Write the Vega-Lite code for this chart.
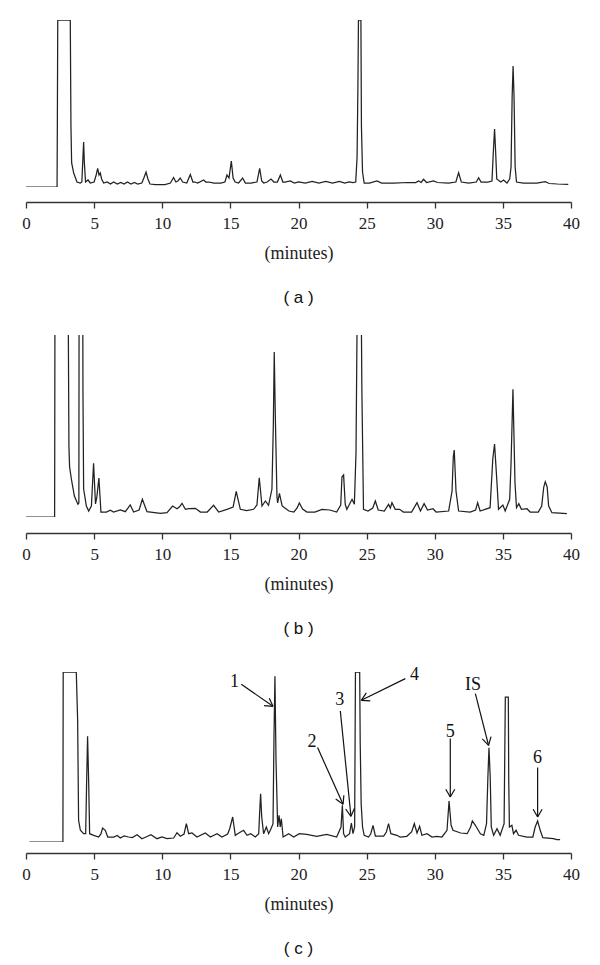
{
  "$schema": "https://vega.github.io/schema/vega-lite/v6.json",
  "padding": {"left": 21, "top": 20, "right": 10, "bottom": 0},
  "spacing": 29,
  "config": {
    "view": {"stroke": null},
    "axis": {"grid": false, "domainColor": "#333", "domainWidth": 1.3, "tickColor": "#333", "tickWidth": 1.3, "tickSize": 6, "labelFont": "Liberation Serif", "labelFontSize": 17, "labelColor": "#222", "labelPadding": 7, "titleFont": "Liberation Serif", "titleFontSize": 18, "titleFontWeight": "normal", "titleColor": "#222", "titlePadding": 13, "labelFlush": false},
    "title": {"font": "Liberation Sans", "fontSize": 17, "fontWeight": "normal", "color": "#111", "orient": "bottom", "anchor": "middle", "offset": 28}
  },
  "datasets": {
    "a": [
      {"t":0,"v":0},{"t":2.28,"v":0},{"t":2.3,"v":60},{"t":2.33,"v":167},{"t":3.25,"v":167},{"t":3.3,"v":60},{"t":3.35,"v":24},{"t":3.5,"v":14},{"t":3.74,"v":5},{"t":3.98,"v":4},{"t":4.1,"v":5},{"t":4.18,"v":30},{"t":4.23,"v":45},{"t":4.28,"v":25},{"t":4.37,"v":5},{"t":4.55,"v":7},{"t":4.72,"v":4},{"t":5.0,"v":5},{"t":5.15,"v":12},{"t":5.26,"v":18.7},{"t":5.36,"v":12},{"t":5.45,"v":14},{"t":5.55,"v":8},{"t":5.7,"v":4},{"t":5.95,"v":5},{"t":6.2,"v":3},{"t":6.43,"v":5},{"t":6.7,"v":3},{"t":6.95,"v":4.5},{"t":7.2,"v":3},{"t":7.45,"v":5},{"t":7.7,"v":3},{"t":7.95,"v":4.5},{"t":8.2,"v":3},{"t":8.5,"v":4},{"t":8.65,"v":9},{"t":8.81,"v":15},{"t":8.95,"v":8},{"t":9.1,"v":3},{"t":9.5,"v":2.5},{"t":10.2,"v":2.5},{"t":10.6,"v":4},{"t":10.83,"v":9.5},{"t":11.0,"v":5},{"t":11.15,"v":6},{"t":11.32,"v":9},{"t":11.5,"v":5},{"t":11.8,"v":4},{"t":12.06,"v":12.5},{"t":12.25,"v":5},{"t":12.4,"v":5},{"t":12.6,"v":4},{"t":13.04,"v":7},{"t":13.2,"v":5},{"t":13.4,"v":5},{"t":13.8,"v":4},{"t":14.3,"v":4},{"t":14.6,"v":5},{"t":14.75,"v":12},{"t":14.9,"v":9},{"t":15.07,"v":26},{"t":15.2,"v":9},{"t":15.35,"v":5},{"t":15.6,"v":4},{"t":15.9,"v":9},{"t":16.1,"v":4},{"t":16.5,"v":4},{"t":16.95,"v":5},{"t":17.15,"v":18.7},{"t":17.3,"v":6},{"t":17.45,"v":4},{"t":17.7,"v":5},{"t":17.98,"v":8},{"t":18.2,"v":5},{"t":18.45,"v":5},{"t":18.67,"v":12},{"t":18.85,"v":5},{"t":19.0,"v":5},{"t":19.4,"v":6},{"t":19.7,"v":4},{"t":20.0,"v":5},{"t":20.5,"v":4},{"t":21.0,"v":5.5},{"t":21.5,"v":4},{"t":22.0,"v":5.5},{"t":22.5,"v":4},{"t":23.0,"v":5.5},{"t":23.4,"v":4},{"t":23.7,"v":5},{"t":24.0,"v":4.5},{"t":24.2,"v":5},{"t":24.3,"v":30},{"t":24.36,"v":100},{"t":24.4,"v":167},{"t":24.58,"v":167},{"t":24.62,"v":60},{"t":24.7,"v":15},{"t":24.82,"v":4},{"t":25.2,"v":4},{"t":25.76,"v":6},{"t":26.1,"v":4},{"t":27,"v":4},{"t":28,"v":4.5},{"t":28.6,"v":4.5},{"t":28.82,"v":6},{"t":29.0,"v":4.5},{"t":29.18,"v":7.7},{"t":29.4,"v":4.5},{"t":29.91,"v":6},{"t":30.2,"v":4.5},{"t":31.0,"v":4},{"t":31.55,"v":5},{"t":31.75,"v":14.3},{"t":31.95,"v":5},{"t":32.5,"v":4},{"t":33.05,"v":5},{"t":33.22,"v":9.3},{"t":33.4,"v":5},{"t":33.9,"v":5},{"t":34.2,"v":6},{"t":34.3,"v":35},{"t":34.39,"v":58},{"t":34.47,"v":35},{"t":34.55,"v":8},{"t":34.85,"v":5},{"t":35.05,"v":7},{"t":35.3,"v":4},{"t":35.5,"v":8},{"t":35.6,"v":20},{"t":35.68,"v":90},{"t":35.75,"v":121},{"t":35.82,"v":90},{"t":35.9,"v":20},{"t":36.0,"v":5},{"t":36.5,"v":4},{"t":37.5,"v":4},{"t":38.11,"v":5.3},{"t":38.4,"v":3.5},{"t":39.0,"v":3},{"t":39.8,"v":2.7}
    ],
    "b": [
      {"t":0,"v":0},{"t":2.1,"v":0},{"t":2.11,"v":71},{"t":2.13,"v":260},{"t":3.08,"v":260},{"t":3.15,"v":71},{"t":3.2,"v":50},{"t":3.33,"v":38},{"t":3.55,"v":21},{"t":3.81,"v":12.7},{"t":3.88,"v":14},{"t":3.9,"v":260},{"t":4.16,"v":260},{"t":4.18,"v":126},{"t":4.23,"v":28},{"t":4.43,"v":11},{"t":4.6,"v":6},{"t":4.8,"v":11},{"t":4.96,"v":53.7},{"t":5.1,"v":13},{"t":5.2,"v":20},{"t":5.35,"v":39},{"t":5.5,"v":5},{"t":5.9,"v":5},{"t":6.19,"v":6.7},{"t":6.43,"v":5},{"t":6.92,"v":7},{"t":7.29,"v":5.3},{"t":7.65,"v":12},{"t":7.9,"v":5},{"t":8.3,"v":7},{"t":8.54,"v":17.7},{"t":8.88,"v":5.3},{"t":9.86,"v":3.7},{"t":10.35,"v":4.3},{"t":10.76,"v":11},{"t":11.08,"v":8.3},{"t":11.25,"v":10},{"t":11.45,"v":13.7},{"t":11.7,"v":7.7},{"t":11.94,"v":8.3},{"t":12.43,"v":8.7},{"t":12.8,"v":5},{"t":13.3,"v":5},{"t":13.77,"v":11.7},{"t":14.14,"v":5},{"t":14.75,"v":7.7},{"t":15.2,"v":10},{"t":15.43,"v":25.7},{"t":15.73,"v":7.7},{"t":16.2,"v":6.3},{"t":16.7,"v":7.7},{"t":16.95,"v":12},{"t":17.12,"v":39.3},{"t":17.32,"v":11},{"t":17.57,"v":16},{"t":17.8,"v":11.7},{"t":18.05,"v":27.7},{"t":18.15,"v":90},{"t":18.22,"v":165},{"t":18.3,"v":100},{"t":18.42,"v":20},{"t":18.47,"v":14},{"t":18.6,"v":23.7},{"t":18.8,"v":11},{"t":19.3,"v":6},{"t":19.66,"v":5},{"t":19.9,"v":9},{"t":20.06,"v":14},{"t":20.3,"v":8},{"t":20.62,"v":5},{"t":21.2,"v":5},{"t":21.73,"v":7.7},{"t":22.3,"v":7},{"t":22.8,"v":5},{"t":23.1,"v":12},{"t":23.19,"v":40},{"t":23.31,"v":42},{"t":23.43,"v":12.7},{"t":23.55,"v":7.7},{"t":23.93,"v":17.7},{"t":24.1,"v":12.7},{"t":24.22,"v":64},{"t":24.34,"v":260},{"t":24.58,"v":260},{"t":24.65,"v":128},{"t":24.77,"v":7.7},{"t":25.1,"v":6},{"t":25.45,"v":9},{"t":25.64,"v":16},{"t":25.85,"v":7},{"t":26.3,"v":6},{"t":26.61,"v":12.7},{"t":26.74,"v":9},{"t":26.86,"v":14.3},{"t":27.1,"v":7.7},{"t":27.42,"v":7.7},{"t":27.7,"v":5},{"t":28.3,"v":5},{"t":28.7,"v":14.3},{"t":28.95,"v":6},{"t":29.22,"v":13.3},{"t":29.47,"v":7},{"t":29.87,"v":8.3},{"t":30.1,"v":5},{"t":31.02,"v":6},{"t":31.27,"v":26},{"t":31.36,"v":60},{"t":31.43,"v":67},{"t":31.56,"v":26},{"t":31.75,"v":6},{"t":32.6,"v":5},{"t":33.0,"v":7},{"t":33.15,"v":14.3},{"t":33.33,"v":6},{"t":34.06,"v":9.3},{"t":34.26,"v":58},{"t":34.39,"v":73},{"t":34.55,"v":38},{"t":34.68,"v":7.7},{"t":35.0,"v":12},{"t":35.17,"v":6},{"t":35.5,"v":17.7},{"t":35.6,"v":54},{"t":35.74,"v":127.7},{"t":35.89,"v":34},{"t":36.0,"v":9.3},{"t":36.17,"v":13.3},{"t":36.36,"v":7.7},{"t":36.77,"v":8.3},{"t":37.0,"v":5},{"t":37.6,"v":5},{"t":37.85,"v":11},{"t":38.0,"v":30},{"t":38.11,"v":35.3},{"t":38.25,"v":30},{"t":38.36,"v":11},{"t":38.6,"v":4.3},{"t":39.7,"v":3.3}
    ],
    "c": [
      {"t":0.25,"v":0},{"t":2.71,"v":0},{"t":2.73,"v":170},{"t":3.69,"v":170},{"t":3.79,"v":121.7},{"t":3.86,"v":21.7},{"t":3.99,"v":11.7},{"t":4.23,"v":8.3},{"t":4.38,"v":8.3},{"t":4.45,"v":60},{"t":4.52,"v":105.7},{"t":4.6,"v":60},{"t":4.67,"v":8.3},{"t":4.97,"v":6.7},{"t":5.33,"v":5},{"t":5.5,"v":8},{"t":5.62,"v":14},{"t":5.82,"v":11.7},{"t":6.0,"v":5},{"t":6.44,"v":5},{"t":6.7,"v":6.5},{"t":6.92,"v":4},{"t":7.2,"v":6},{"t":7.53,"v":5},{"t":7.8,"v":4.5},{"t":8.15,"v":7.3},{"t":8.51,"v":3.3},{"t":8.8,"v":5},{"t":9.17,"v":7.3},{"t":9.62,"v":3.3},{"t":9.98,"v":5},{"t":10.35,"v":3.3},{"t":10.84,"v":4},{"t":11.08,"v":9.3},{"t":11.33,"v":5.7},{"t":11.6,"v":8},{"t":11.77,"v":18.3},{"t":11.94,"v":8.3},{"t":12.18,"v":9},{"t":12.55,"v":5},{"t":13.16,"v":9},{"t":13.53,"v":5},{"t":14.02,"v":8.3},{"t":14.38,"v":5},{"t":14.8,"v":8},{"t":14.95,"v":13.3},{"t":15.17,"v":25},{"t":15.36,"v":6.7},{"t":15.53,"v":8.3},{"t":15.97,"v":11.7},{"t":16.22,"v":6.7},{"t":16.5,"v":8.3},{"t":16.83,"v":5},{"t":17.08,"v":8.3},{"t":17.15,"v":30},{"t":17.22,"v":48.3},{"t":17.3,"v":25},{"t":17.44,"v":8.3},{"t":17.64,"v":15},{"t":17.81,"v":8.3},{"t":17.98,"v":13.3},{"t":18.13,"v":18.3},{"t":18.2,"v":105},{"t":18.27,"v":165.7},{"t":18.35,"v":81.7},{"t":18.47,"v":15},{"t":18.57,"v":26.7},{"t":18.66,"v":15},{"t":18.74,"v":23.3},{"t":18.87,"v":5},{"t":19.28,"v":8.3},{"t":19.65,"v":5},{"t":20.06,"v":8.3},{"t":20.6,"v":7.7},{"t":21.34,"v":5.7},{"t":22.07,"v":7.7},{"t":22.8,"v":5},{"t":23.12,"v":15},{"t":23.22,"v":36.7},{"t":23.31,"v":8.3},{"t":23.43,"v":5},{"t":23.75,"v":8.3},{"t":23.88,"v":19},{"t":24.0,"v":8.3},{"t":24.12,"v":15},{"t":24.18,"v":170},{"t":24.49,"v":170},{"t":24.53,"v":98},{"t":24.6,"v":38},{"t":24.7,"v":15},{"t":24.82,"v":6.7},{"t":25.14,"v":5},{"t":25.3,"v":8},{"t":25.47,"v":16.7},{"t":25.64,"v":6},{"t":26.25,"v":6},{"t":26.45,"v":10},{"t":26.61,"v":18.3},{"t":26.78,"v":8.3},{"t":27.22,"v":6.7},{"t":27.46,"v":5},{"t":27.95,"v":5.7},{"t":28.3,"v":10},{"t":28.5,"v":18.3},{"t":28.7,"v":9},{"t":28.89,"v":15.7},{"t":29.06,"v":6.7},{"t":29.43,"v":8.3},{"t":29.8,"v":5},{"t":30.16,"v":5.7},{"t":30.53,"v":5},{"t":30.9,"v":11.7},{"t":31.05,"v":41},{"t":31.2,"v":16.7},{"t":31.34,"v":11.7},{"t":31.9,"v":9},{"t":32.38,"v":8.3},{"t":32.63,"v":15},{"t":32.76,"v":21},{"t":32.98,"v":16.7},{"t":33.35,"v":8.3},{"t":33.6,"v":6.7},{"t":33.8,"v":18.3},{"t":33.9,"v":65},{"t":33.98,"v":94.3},{"t":34.07,"v":65},{"t":34.15,"v":15},{"t":34.32,"v":6.7},{"t":34.57,"v":13.3},{"t":34.8,"v":6.7},{"t":35.09,"v":18.3},{"t":35.18,"v":145},{"t":35.4,"v":145},{"t":35.43,"v":61.7},{"t":35.48,"v":15},{"t":35.66,"v":16.7},{"t":35.78,"v":8.3},{"t":35.97,"v":11.7},{"t":36.15,"v":6.7},{"t":36.76,"v":5},{"t":37.2,"v":5},{"t":37.37,"v":15},{"t":37.55,"v":21},{"t":37.74,"v":11.7},{"t":37.93,"v":4.3},{"t":38.71,"v":3.3},{"t":38.96,"v":2.3},{"t":39.2,"v":2.3}
    ],
    "arrows": [
      {"t":15.80,"v":157.7,"t2":18.13,"v2":135.7},{"t":18.13,"v":135.7,"t2":17.85,"v2":143.8},{"t":18.13,"v":135.7,"t2":17.47,"v2":136.4},
      {"t":21.40,"v":94.4,"t2":23.27,"v2":37.7},{"t":23.27,"v":37.7,"t2":23.33,"v2":46.7},{"t":23.27,"v":37.7,"t2":22.73,"v2":43.0},
      {"t":23.07,"v":131,"t2":23.85,"v2":25.7},{"t":23.85,"v":25.7,"t2":24.12,"v2":33.9},{"t":23.85,"v":25.7,"t2":23.46,"v2":33.0},
      {"t":27.84,"v":163.4,"t2":24.61,"v2":141.7},{"t":24.61,"v":141.7,"t2":25.27,"v2":141.1},{"t":24.61,"v":141.7,"t2":24.98,"v2":149.2},
      {"t":31.14,"v":103.4,"t2":31.14,"v2":45},{"t":31.14,"v":45,"t2":31.47,"v2":52.8},{"t":31.14,"v":45,"t2":30.81,"v2":52.8},
      {"t":32.98,"v":148.4,"t2":33.95,"v2":96.7},{"t":33.95,"v":96.7,"t2":34.13,"v2":105.4},{"t":33.95,"v":96.7,"t2":33.49,"v2":103.1},
      {"t":37.55,"v":74.4,"t2":37.55,"v2":25},{"t":37.55,"v":25,"t2":37.88,"v2":32.8},{"t":37.55,"v":25,"t2":37.22,"v2":32.8}
    ],
    "labels": [
      {"t":15.31,"v":160,"label":"1"},{"t":20.99,"v":100,"label":"2"},{"t":23.02,"v":141.7,"label":"3"},{"t":28.52,"v":166.7,"label":"4"},{"t":31.14,"v":110,"label":"5"},{"t":32.81,"v":156.7,"label":"IS"},{"t":37.55,"v":84.4,"label":"6"}
    ]
  },
  "vconcat": [
    {
      "width": 545, "height": 167,
      "title": {"text": "( a )", "font": "Liberation Sans"},
      "data": {"name": "a"},
      "mark": {"type": "line", "clip": true, "color": "#222", "strokeWidth": 1.25},
      "encoding": {
        "x": {"field": "t", "type": "quantitative", "scale": {"domain": [0, 40], "nice": false}, "axis": {"values": [0,5,10,15,20,25,30,35,40], "title": "(minutes)", "offset": 15, "labelFont": "Liberation Serif", "titleFont": "Liberation Serif"}},
        "y": {"field": "v", "type": "quantitative", "scale": {"domain": [0, 167], "nice": false}, "axis": null}
      }
    },
    {
      "width": 545, "height": 182,
      "title": {"text": "( b )", "font": "Liberation Sans"},
      "data": {"name": "b"},
      "mark": {"type": "line", "clip": true, "color": "#222", "strokeWidth": 1.25},
      "encoding": {
        "x": {"field": "t", "type": "quantitative", "scale": {"domain": [0, 40], "nice": false}, "axis": {"values": [0,5,10,15,20,25,30,35,40], "title": "(minutes)", "offset": 16, "labelFont": "Liberation Serif", "titleFont": "Liberation Serif"}},
        "y": {"field": "v", "type": "quantitative", "scale": {"domain": [0, 182], "nice": false}, "axis": null}
      }
    },
    {
      "width": 545, "height": 170,
      "title": {"text": "( c )", "font": "Liberation Sans"},
      "layer": [
        {
          "data": {"name": "c"},
          "mark": {"type": "line", "clip": true, "color": "#222", "strokeWidth": 1.25},
          "encoding": {
            "x": {"field": "t", "type": "quantitative", "scale": {"domain": [0, 40], "nice": false}, "axis": {"values": [0,5,10,15,20,25,30,35,40], "title": "(minutes)", "offset": 11, "labelFont": "Liberation Serif", "titleFont": "Liberation Serif"}},
            "y": {"field": "v", "type": "quantitative", "scale": {"domain": [0, 170], "nice": false}, "axis": null}
          }
        },
        {
          "data": {"name": "arrows"},
          "mark": {"type": "rule", "color": "#111", "strokeWidth": 1.2},
          "encoding": {
            "x": {"field": "t", "type": "quantitative"},
            "y": {"field": "v", "type": "quantitative"},
            "x2": {"field": "t2"},
            "y2": {"field": "v2"}
          }
        },
        {
          "data": {"name": "labels"},
          "mark": {"type": "text", "font": "Liberation Serif", "fontSize": 18, "color": "#111", "baseline": "middle", "align": "center"},
          "encoding": {
            "x": {"field": "t", "type": "quantitative"},
            "y": {"field": "v", "type": "quantitative"},
            "text": {"field": "label"}
          }
        }
      ]
    }
  ]
}
